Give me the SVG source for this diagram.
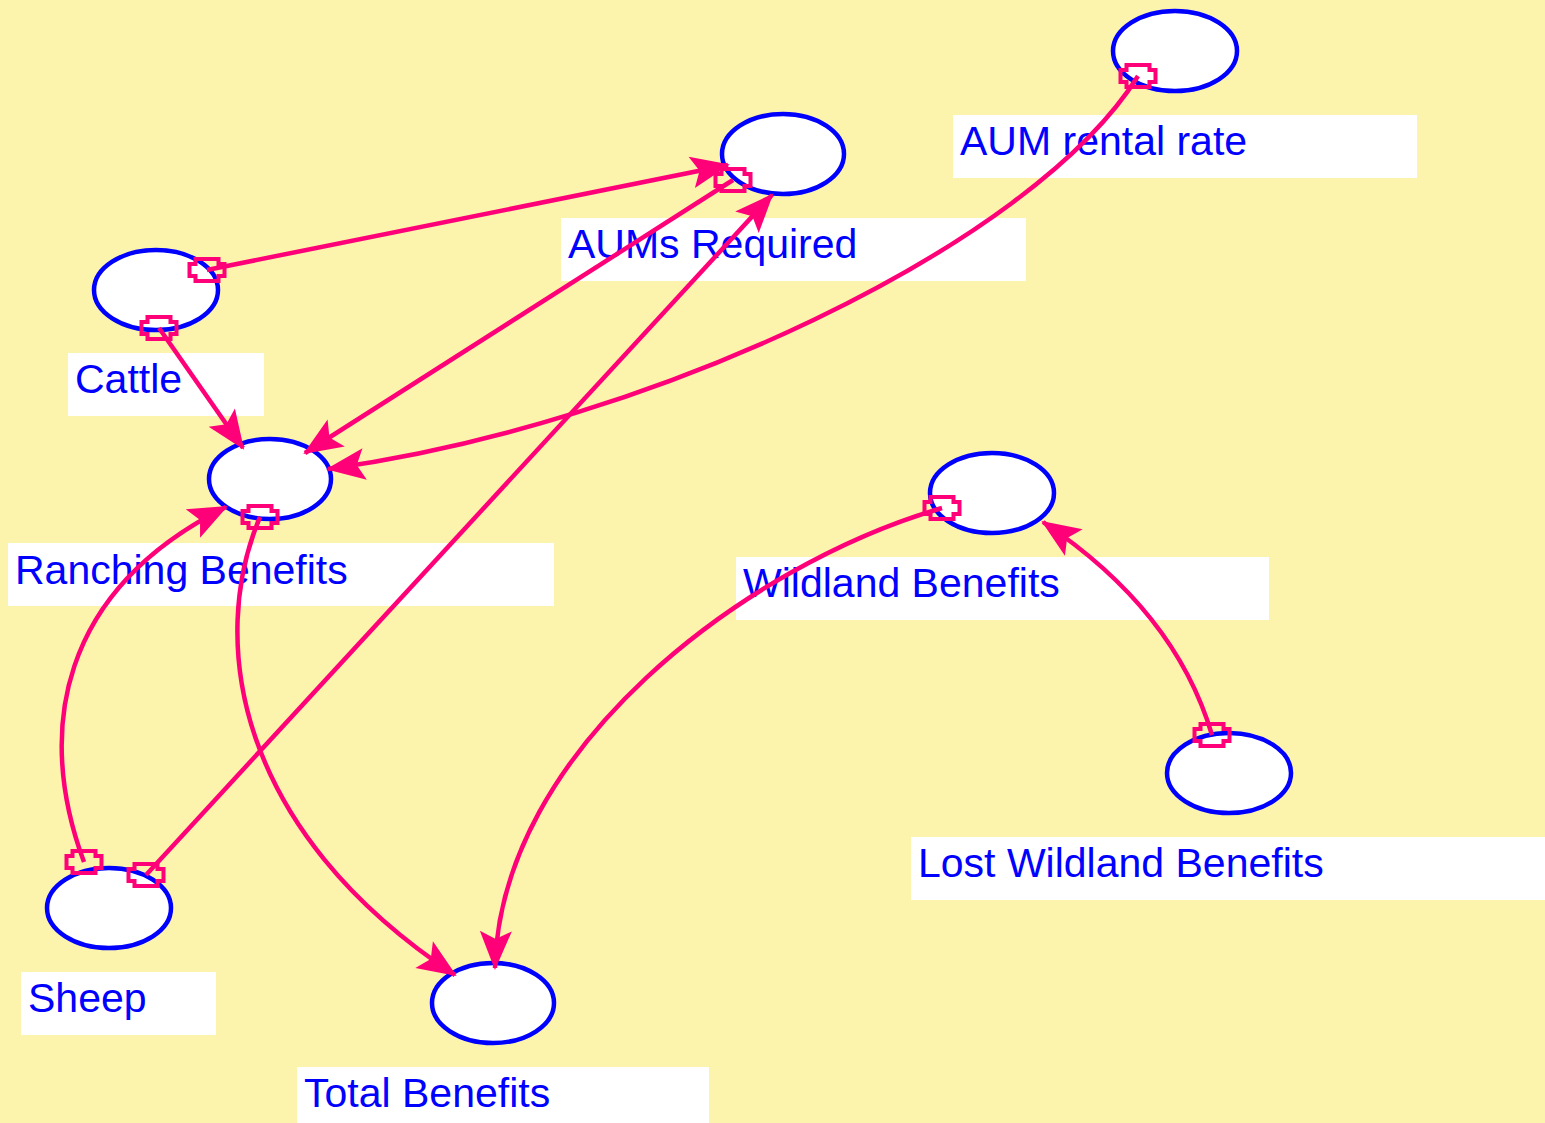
<svg xmlns="http://www.w3.org/2000/svg" width="1545" height="1123" viewBox="0 0 1545 1123">
<style>
.bg{fill:#FCF4AC}
.node ellipse{fill:#FFFFFF;stroke:#0000FF;stroke-width:4.5}
.node rect{fill:#FFFFFF}
.node text{font-family:"Liberation Sans",Arial,sans-serif;font-size:41px;fill:#0000FF}
.conn{fill:none;stroke:#FF0078;stroke-width:4.5;marker-start:url(#tail);marker-end:url(#head)}
</style>
<defs>
<marker id="head" markerUnits="userSpaceOnUse" markerWidth="50" markerHeight="40" refX="0" refY="0" viewBox="-45 -20 50 40" orient="auto" overflow="visible">
<path d="M2,0 L-37,-16 L-29,0 L-37,16 Z" fill="#FF0078"/>
</marker>
<marker id="tail" markerUnits="userSpaceOnUse" markerWidth="50" markerHeight="40" refX="0" refY="0" viewBox="-25 -20 50 40" orient="0" overflow="visible">
<path d="M-11.5,-11 L11.5,-11 L11.5,-6 L17.5,-6 L17.5,6 L11.5,6 L11.5,11 L-11.5,11 L-11.5,6 L-17.5,6 L-17.5,-6 L-11.5,-6 Z" fill="none" stroke="#FF0078" stroke-width="4"/>
</marker>
</defs>
<rect class="bg" x="0" y="0" width="1545" height="1123"/>
<g id="node-aum-rental-rate" class="node">
<ellipse cx="1175" cy="51" rx="62" ry="40"/>
<rect x="953" y="115" width="464" height="63"/>
<text x="960" y="155">AUM rental rate</text>
</g>
<g id="node-aums-required" class="node">
<ellipse cx="783" cy="154" rx="61" ry="40"/>
<rect x="561" y="218" width="465" height="63"/>
<text x="568" y="258">AUMs Required</text>
</g>
<g id="node-cattle" class="node">
<ellipse cx="156" cy="290" rx="62" ry="40"/>
<rect x="68" y="353" width="196" height="63"/>
<text x="75" y="393">Cattle</text>
</g>
<g id="node-ranching-benefits" class="node">
<ellipse cx="270" cy="479" rx="61" ry="40"/>
<rect x="8" y="543" width="546" height="63"/>
<text x="15" y="584">Ranching Benefits</text>
</g>
<g id="node-wildland-benefits" class="node">
<ellipse cx="992" cy="493" rx="62" ry="40"/>
<rect x="736" y="557" width="533" height="63"/>
<text x="743" y="597">Wildland Benefits</text>
</g>
<g id="node-lost-wildland-benefits" class="node">
<ellipse cx="1229" cy="773" rx="62" ry="40"/>
<rect x="911" y="837" width="634" height="63"/>
<text x="918" y="877">Lost Wildland Benefits</text>
</g>
<g id="node-sheep" class="node">
<ellipse cx="109" cy="908" rx="62" ry="40"/>
<rect x="21" y="972" width="195" height="63"/>
<text x="28" y="1012">Sheep</text>
</g>
<g id="node-total-benefits" class="node">
<ellipse cx="493" cy="1003" rx="61" ry="40"/>
<rect x="297" y="1067" width="412" height="56"/>
<text x="304" y="1107">Total Benefits</text>
</g>
<g id="connectors">
<path class="conn" d="M207,270 L728,165"/>
<path class="conn" d="M733,180 L305,453"/>
<path class="conn" d="M146,875 L772,195"/>
<path class="conn" d="M1138,76 C1032,246 650,425 328,469"/>
<path class="conn" d="M159,328 L243,448"/>
<path class="conn" d="M84,862 C35,730 60,590 226,507"/>
<path class="conn" d="M260,517 C208,640 235,830 455,975"/>
<path class="conn" d="M942,508 C745,565 500,750 495,968"/>
<path class="conn" d="M1212,735 Q1175,610 1043,522"/>
</g>
</svg>
